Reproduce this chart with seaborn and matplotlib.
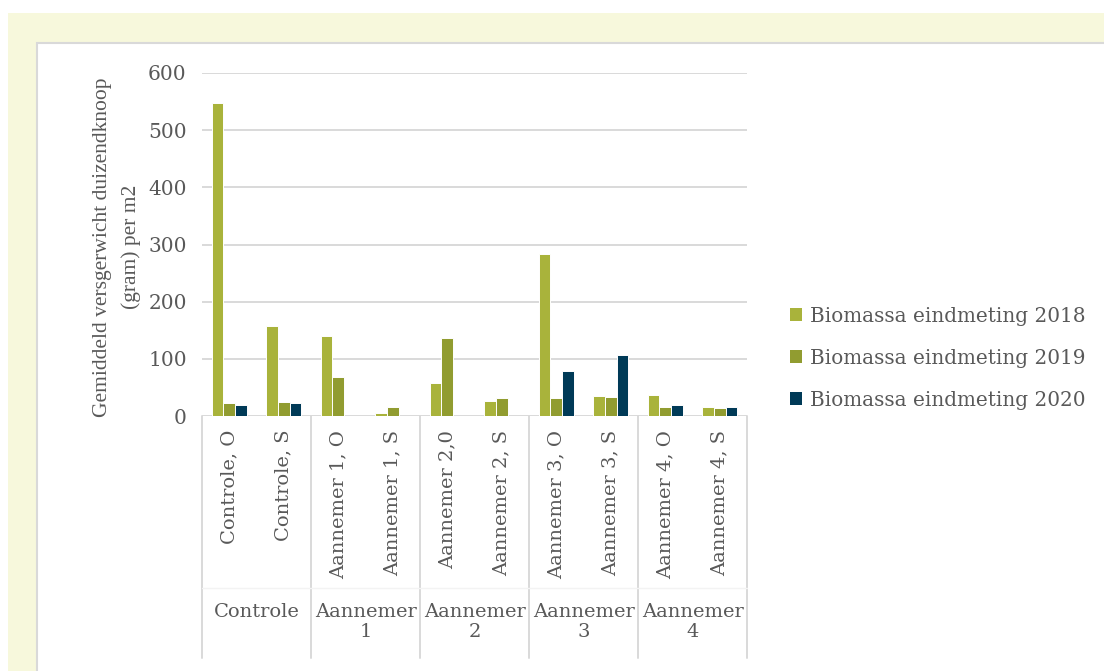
import pandas as pd
import matplotlib.pyplot as plt
import matplotlib.transforms as mtransforms
from matplotlib.patches import Rectangle, Patch
import seaborn as sns

# ---------- DATA ----------
categories = ["Controle, O", "Controle, S", "Aannemer 1, O", "Aannemer 1, S",
              "Aannemer 2,0", "Aannemer 2, S", "Aannemer 3, O", "Aannemer 3, S",
              "Aannemer 4, O", "Aannemer 4, S"]
groups = ["Controle", "Aannemer\n1", "Aannemer\n2", "Aannemer\n3", "Aannemer\n4"]
series = ["Biomassa eindmeting 2018", "Biomassa eindmeting 2019", "Biomassa eindmeting 2020"]
biomassa_2018 = [548, 158, 140, 6, 58, 26, 283, 35, 37, 15]
biomassa_2019 = [22, 25, 68, 15, 137, 32, 31, 33, 16, 14]
biomassa_2020 = [19, 23, 0, 0, 0, 0, 79, 106, 19, 15]
colors = ["#a9b33b", "#919c30", "#003a57"]

df = pd.DataFrame({
    "categorie": categories * 3,
    "serie": [s for s in series for _ in categories],
    "waarde": biomassa_2018 + biomassa_2019 + biomassa_2020,
})

# ---------- STYLE ----------
sns.set_style("white")
plt.rcParams["font.family"] = ["DejaVu Serif"]
text_color = "#595959"
grid_color = "#d9d9d9"
fs = 14

W, H = 1104, 671
fig = plt.figure(figsize=(W / 100, H / 100), dpi=100)
fig.patch.set_facecolor("white")

# background panels
fig.patches.append(Rectangle((8 / W, 0), 1, (H - 13) / H, transform=fig.transFigure,
                             facecolor="#f7f8dc", edgecolor="none", zorder=-2))
fig.patches.append(Rectangle((37 / W, -0.01), 1, (H - 43) / H + 0.01, transform=fig.transFigure,
                             facecolor="white", edgecolor=grid_color, lw=1.5, zorder=-1))

left, right, top, bottom = 202, 747, 73, 416
ax = fig.add_axes([left / W, (H - bottom) / H, (right - left) / W, (bottom - top) / H])
ax.patch.set_alpha(0)

sns.barplot(data=df, x="categorie", y="waarde", hue="serie", palette=colors,
            saturation=1, width=0.64, edgecolor="white", linewidth=0.7,
            ax=ax, legend=False, zorder=3)

# ---------- AXES ----------
ax.set_ylim(0, 600)
ax.set_xlim(-0.5, len(categories) - 0.5)
ax.set_yticks(range(0, 601, 100))
ax.yaxis.grid(True, color=grid_color, lw=1.4, zorder=0)
for s in ax.spines.values():
    s.set_visible(False)
ax.tick_params(axis="y", length=0, pad=11, labelsize=fs + 0.5, labelcolor=text_color)
ax.tick_params(axis="x", length=0, pad=10, labelsize=fs, labelcolor=text_color)
ax.set_xticks(range(len(categories)))
ax.set_xticklabels(categories, rotation=90, va="top", ha="center")
ax.set_xlabel("")
ax.set_ylabel("")

# multi-level category axis lines and group labels
trans = mtransforms.blended_transform_factory(ax.transData, ax.transAxes)
depth = (658 - bottom) / (bottom - top)
for i in range(len(groups) + 1):
    x = -0.5 + 2 * i
    ax.plot([x, x], [0, -depth], transform=trans, color=grid_color, lw=1.4, clip_on=False)
ax.plot([-0.5, len(categories) - 0.5], [-(588 - bottom) / (bottom - top)] * 2,
        transform=trans, color="#f3f3f3", lw=1, clip_on=False)
for i, g in enumerate(groups):
    ax.text(0.5 + 2 * i, -(603 - bottom) / (bottom - top), g, transform=trans,
            ha="center", va="top", fontsize=fs, color=text_color, linespacing=1.15)

fig.text(117 / W, (H - 247) / H, "Gemiddeld versgerwicht duizendknoop\n(gram) per m2",
         rotation=90, ha="center", va="center", fontsize=15.5, color=text_color,
         family=["Liberation Serif", "DejaVu Serif"],
         multialignment="center", linespacing=1.65)

# ---------- LEGEND ----------
handles = [Patch(facecolor=c, edgecolor="none") for c in colors]
fig.legend(handles, series, loc="center left", bbox_to_anchor=(772 / W, (H - 358) / H),
           frameon=False, fontsize=fs + 0.4, labelcolor=text_color, handlelength=0.6,
           handleheight=0.6, handletextpad=0.4, labelspacing=1.15)

plt.savefig("out.png", dpi=100)
